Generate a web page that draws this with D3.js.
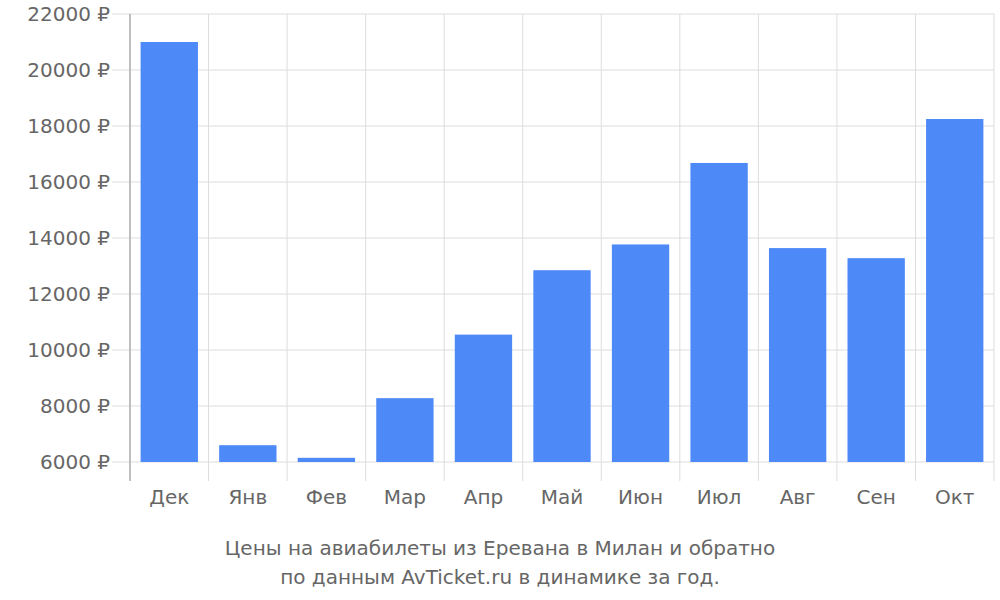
<!DOCTYPE html><html><head><meta charset="utf-8"><script src="https://cdn.jsdelivr.net/npm/d3@7"></script>
<style>body{margin:0;background:#fff}text{font-family:"DejaVu Sans";fill:#666}</style></head><body><svg width="1000" height="600"></svg><script>
const months=["Дек","Янв","Фев","Мар","Апр","Май","Июн","Июл","Авг","Сен","Окт"];
const prices=[21000,6600,6150,8280,10550,12850,13770,16680,13640,13280,18250];
const yTicks=[6000,8000,10000,12000,14000,16000,18000,20000,22000];
const svg=d3.select("svg");
const L=130,R=994,T=14,B=462;
const x=d3.scaleBand().domain(months).range([L,R]).paddingInner(0.27).paddingOuter(0.135);
const y=d3.scaleLinear().domain([6000,22000]).range([B,T]);
const step=(R-L)/months.length;
const g=svg.append("g");
yTicks.forEach(t=>{g.append("line").attr("x1",112).attr("x2",R).attr("y1",y(t)).attr("y2",y(t)).attr("stroke","#ddd");
 g.append("text").attr("x",110).attr("y",y(t)).attr("dy","0.35em").attr("text-anchor","end").attr("font-size",20).text(t+" ₽");});
for(let i=0;i<=months.length;i++){const xx=L+i*step;g.append("line").attr("x1",xx).attr("x2",xx).attr("y1",T).attr("y2",481).attr("stroke",i==0?"#aaa":"#ddd").attr("stroke-width",i==0?1.5:1);}
svg.selectAll("rect").data(prices).join("rect").attr("x",(d,i)=>x(months[i])).attr("width",x.bandwidth()).attr("y",d=>y(d)).attr("height",d=>B-y(d)).attr("fill","#4d8af8");
months.forEach(m=>svg.append("text").attr("x",x(m)+x.bandwidth()/2).attr("y",504).attr("text-anchor","middle").attr("font-size",20).text(m));
svg.append("text").attr("x",500).attr("y",555).attr("text-anchor","middle").attr("font-size",20).text("Цены на авиабилеты из Еревана в Милан и обратно");
svg.append("text").attr("x",500).attr("y",584).attr("text-anchor","middle").attr("font-size",20).text("по данным AvTicket.ru в динамике за год.");
</script></body></html>
